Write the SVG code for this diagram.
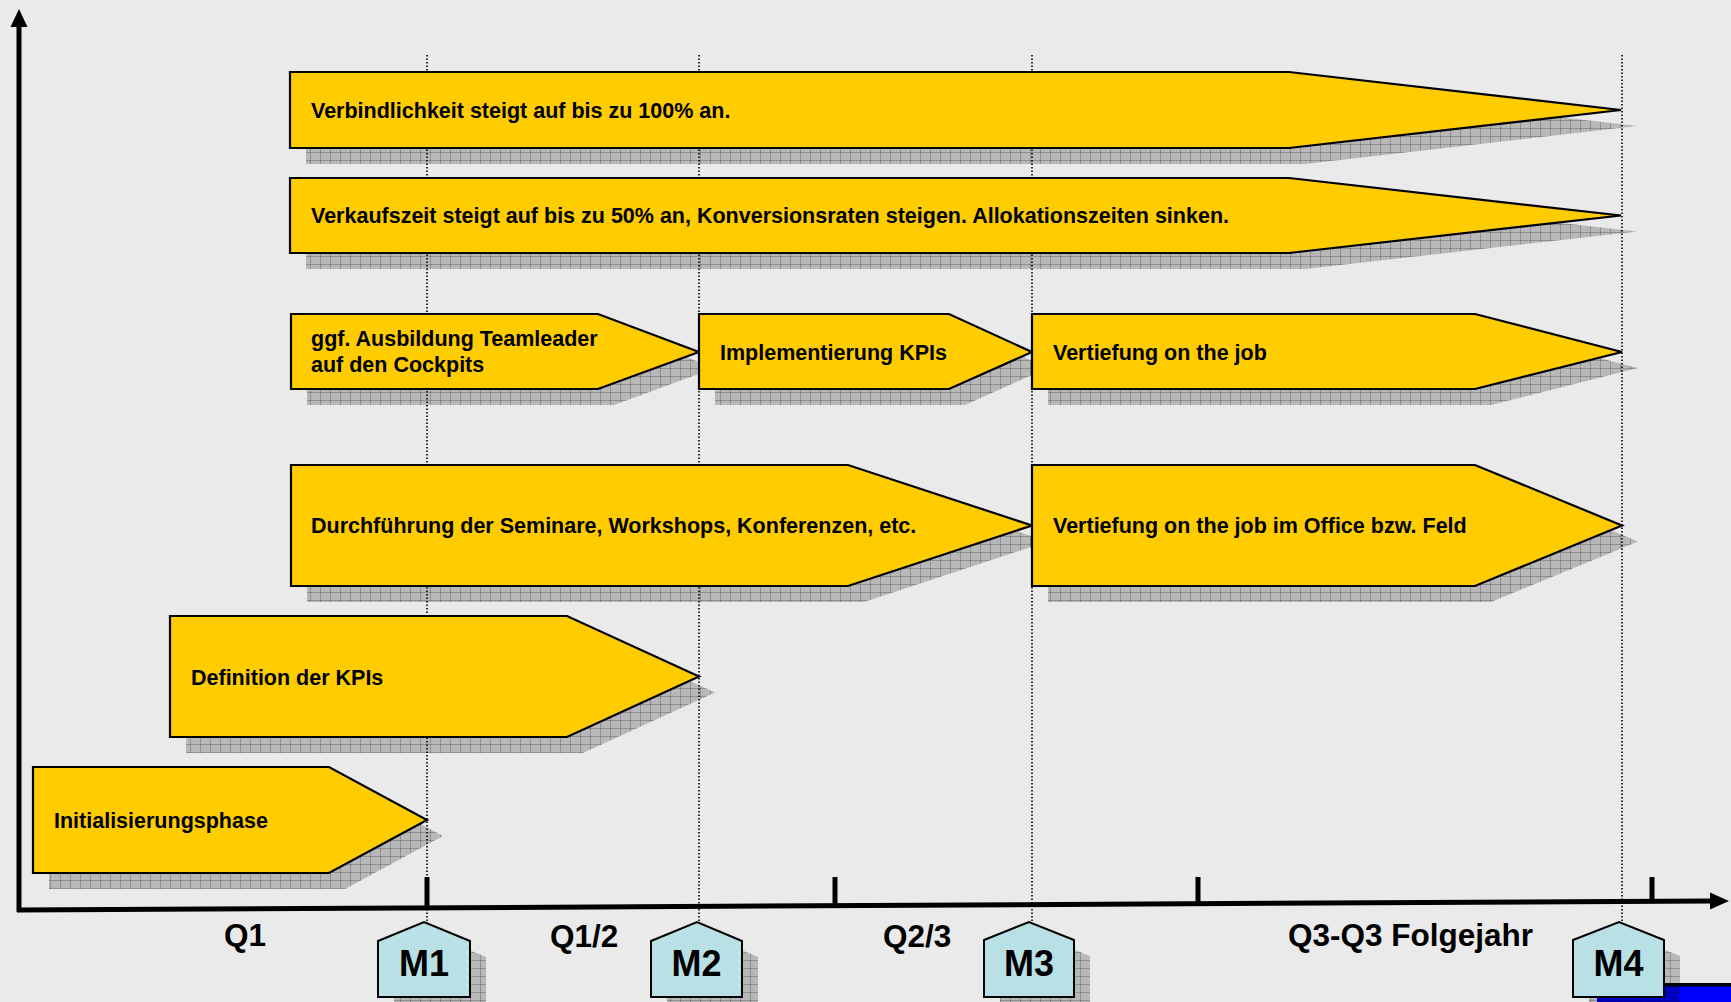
<svg xmlns="http://www.w3.org/2000/svg" width="1731" height="1002" viewBox="0 0 1731 1002">
<defs>
<pattern id="hatch" patternUnits="userSpaceOnUse" width="10" height="8">
<rect width="10" height="8" fill="#000" fill-opacity="0.21"/>
<path d="M0 0.5H10M0.5 0V8" stroke="#000" stroke-opacity="0.22" stroke-width="1" fill="none"/>
</pattern>
<style>
.bg{fill:#eaeaea}
.shadow{fill:url(#hatch)}
.bar{fill:#ffcc00;stroke:#000;stroke-width:2.2;stroke-linejoin:miter}
.house{fill:#b9e0e4;stroke:#000;stroke-width:2}
.t{font-family:"Liberation Sans",Arial,sans-serif;font-weight:bold;font-size:21.5px;fill:#000}
.m{font-family:"Liberation Sans",Arial,sans-serif;font-weight:bold;font-size:36px;fill:#000;text-anchor:middle}
.q{font-family:"Liberation Sans",Arial,sans-serif;font-weight:bold;font-size:31.5px;fill:#000}
.guide{stroke:#000;stroke-width:1.6;stroke-dasharray:1.6 1.9;fill:none}
.axis{stroke:#000;stroke-width:5;fill:none}
</style>
</defs>
<rect class="bg" x="0" y="0" width="1731" height="1002"/>
<g id="corner-bar">
<rect x="1597" y="983" width="134" height="19" fill="#0000ff"/>
<rect x="1597" y="983" width="134" height="3.5" fill="#000"/>
</g>
<g id="shadows" class="shadow">
<polygon points="306,88 1305,88 1637,126 1305,164 306,164"/>
<polygon points="306,194 1305,194 1637,231.5 1305,269 306,269"/>
<polygon points="307,330 614,330 715,368 614,405 307,405"/>
<polygon points="715,330 965,330 1048,368 965,405 715,405"/>
<polygon points="1048,330 1491,330 1638,368 1491,405 1048,405"/>
<polygon points="307,481 864,481 1048,541.5 864,602 307,602"/>
<polygon points="1048,481 1491,481 1638,541.5 1491,602 1048,602"/>
<polygon points="186,632 583,632 715,692.5 583,753 186,753"/>
<polygon points="49,783 345,783 443,836 345,889 49,889"/>
<polygon points="394,957 440,938 486,957 486,1013 394,1013"/>
<polygon points="667,957 713,938 758,957 758,1013 667,1013"/>
<polygon points="1000,956 1045,938 1090,956 1090,1013 1000,1013"/>
<polygon points="1589,956 1635,938 1680,956 1680,1013 1589,1013"/>
</g>
<g id="connectors">
<line class="guide" x1="427" y1="55" x2="427" y2="922"/>
<line class="guide" x1="699" y1="55" x2="699" y2="922"/>
<line class="guide" x1="1032" y1="55" x2="1032" y2="922"/>
<line class="guide" x1="1622" y1="55" x2="1622" y2="922"/>
<line class="axis" x1="19" y1="912" x2="19" y2="24"/>
<polygon points="19,9 10.5,27 27.5,27" fill="#000"/>
<line class="axis" x1="17" y1="910" x2="1712" y2="901"/>
<polygon points="1729,901 1710,892.5 1710,909.5" fill="#000"/>
<line class="axis" x1="427" y1="877" x2="427" y2="908"/>
<line class="axis" x1="835" y1="877" x2="835" y2="906"/>
<line class="axis" x1="1198" y1="877" x2="1198" y2="904"/>
<line class="axis" x1="1652" y1="877" x2="1652" y2="902"/>
</g>
<g id="node-verbindlichkeit">
<polygon class="bar" points="290,72 1289,72 1621,110 1289,148 290,148"/>
<text class="t" x="311" y="117.5">Verbindlichkeit steigt auf bis zu 100% an.</text>
</g>
<g id="node-verkaufszeit">
<polygon class="bar" points="290,178 1289,178 1621,215.5 1289,253 290,253"/>
<text class="t" x="311" y="223">Verkaufszeit steigt auf bis zu 50% an, Konversionsraten steigen. Allokationszeiten sinken.</text>
</g>
<g id="node-ausbildung">
<polygon class="bar" points="291,314 598,314 699,352 598,389 291,389"/>
<text class="t" x="311" y="346">ggf. Ausbildung Teamleader</text>
<text class="t" x="311" y="372">auf den Cockpits</text>
</g>
<g id="node-implementierung">
<polygon class="bar" points="699,314 949,314 1032,352 949,389 699,389"/>
<text class="t" x="720" y="359.5">Implementierung KPIs</text>
</g>
<g id="node-vertiefung">
<polygon class="bar" points="1032,314 1475,314 1622,352 1475,389 1032,389"/>
<text class="t" x="1053" y="359.5">Vertiefung on the job</text>
</g>
<g id="node-durchfuehrung">
<polygon class="bar" points="291,465 848,465 1032,525.5 848,586 291,586"/>
<text class="t" x="311" y="533">Durchführung der Seminare, Workshops, Konferenzen, etc.</text>
</g>
<g id="node-vertiefung-office">
<polygon class="bar" points="1032,465 1475,465 1622,525.5 1475,586 1032,586"/>
<text class="t" x="1053" y="533">Vertiefung on the job im Office bzw. Feld</text>
</g>
<g id="node-definition">
<polygon class="bar" points="170,616 567,616 699,676.5 567,737 170,737"/>
<text class="t" x="191" y="684.5">Definition der KPIs</text>
</g>
<g id="node-init">
<polygon class="bar" points="33,767 329,767 427,820 329,873 33,873"/>
<text class="t" x="54" y="828">Initialisierungsphase</text>
</g>
<g id="labels">
<text class="q" x="224" y="946">Q1</text>
<text class="q" x="550" y="946.5">Q1/2</text>
<text class="q" x="883" y="947">Q2/3</text>
<text class="q" x="1288" y="946">Q3-Q3 Folgejahr</text>
</g>
<g id="node-m1">
<polygon class="house" points="378,941 424,922 470,941 470,997 378,997"/>
<text class="m" x="424" y="976">M1</text>
</g>
<g id="node-m2">
<polygon class="house" points="651,941 697,922 742,941 742,997 651,997"/>
<text class="m" x="696.5" y="976">M2</text>
</g>
<g id="node-m3">
<polygon class="house" points="984,940 1029,922 1074,940 1074,997 984,997"/>
<text class="m" x="1029" y="976">M3</text>
</g>
<g id="node-m4">
<polygon class="house" points="1573,940 1619,922 1664,940 1664,997 1573,997"/>
<text class="m" x="1618.5" y="976">M4</text>
</g>
</svg>
